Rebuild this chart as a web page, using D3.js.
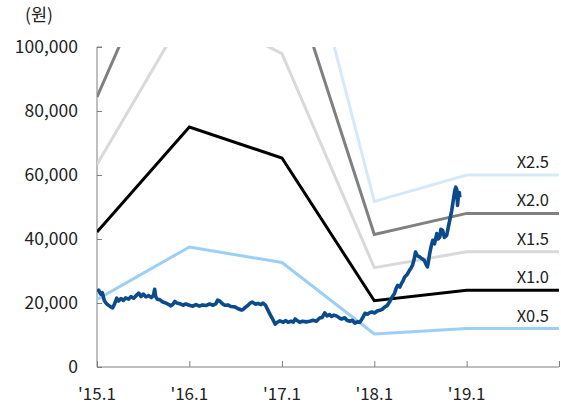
<!DOCTYPE html>
<html><head><meta charset="utf-8">
<script src="https://cdn.jsdelivr.net/npm/d3@7"></script>
<style>body{margin:0;background:#fff}svg{display:block}text{font-family:"Noto Sans CJK KR","Noto Sans",sans-serif;fill:#222}</style>
</head><body>
<svg id="c" width="561" height="406"></svg>
<script>
// ---- data ----
const bandDates = ["2015-01-01","2016-01-01","2017-01-01","2018-01-01","2019-01-01","2020-01-01"];
const bps = [42200, 75000, 65300, 20700, 24000, 24000];
const multiples = [2.5, 2.0, 1.5, 1.0, 0.5];
const bandLabels = ["X2.5","X2.0","X1.5","X1.0","X0.5"];
const bandColors = ["#d7e9f9","#808080","#d9d9d9","#000000","#9ccff5"];
const xTickDates = ["2015-01-01","2016-01-01","2017-01-01","2018-01-01","2019-01-01","2020-01-01"];
const xTickLabels = ["'15.1","'16.1","'17.1","'18.1","'19.1",""];
const yTicks = [0,20000,40000,60000,80000,100000];
const priceDates = ["2015-01-02","2015-01-08","2015-01-15","2015-01-22","2015-01-29","2015-02-05","2015-02-12","2015-02-24","2015-03-04","2015-03-12","2015-03-20","2015-03-27","2015-04-06","2015-04-15","2015-04-24","2015-05-06","2015-05-15","2015-05-26","2015-06-05","2015-06-15","2015-06-24","2015-07-03","2015-07-13","2015-07-24","2015-08-04","2015-08-12","2015-08-17","2015-08-21","2015-08-27","2015-09-07","2015-09-18","2015-09-30","2015-10-12","2015-10-20","2015-10-28","2015-11-05","2015-11-12","2015-11-24","2015-12-07","2015-12-18","2016-01-04","2016-01-15","2016-01-27","2016-02-10","2016-02-22","2016-03-07","2016-03-21","2016-04-04","2016-04-15","2016-04-22","2016-05-02","2016-05-12","2016-05-20","2016-06-01","2016-06-14","2016-06-29","2016-07-12","2016-07-25","2016-07-30","2016-08-10","2016-08-19","2016-08-29","2016-09-05","2016-09-19","2016-09-28","2016-10-10","2016-10-18","2016-10-28","2016-11-07","2016-11-16","2016-11-23","2016-11-30","2016-12-05","2016-12-12","2016-12-24","2017-01-06","2017-01-16","2017-01-25","2017-02-06","2017-02-15","2017-02-22","2017-03-02","2017-03-12","2017-03-24","2017-04-06","2017-04-21","2017-05-04","2017-05-17","2017-05-30","2017-06-09","2017-06-19","2017-06-28","2017-07-08","2017-07-16","2017-07-26","2017-08-06","2017-08-17","2017-08-25","2017-09-06","2017-09-15","2017-09-26","2017-10-06","2017-10-16","2017-10-26","2017-11-05","2017-11-15","2017-11-25","2017-12-05","2017-12-14","2017-12-22","2018-01-03","2018-01-12","2018-01-23","2018-02-01","2018-02-12","2018-02-21","2018-03-02","2018-03-12","2018-03-22","2018-03-28","2018-04-03","2018-04-12","2018-04-19","2018-04-25","2018-05-01","2018-05-10","2018-05-20","2018-05-27","2018-06-01","2018-06-07","2018-06-13","2018-06-20","2018-06-29","2018-07-09","2018-07-18","2018-07-25","2018-07-30","2018-08-03","2018-08-08","2018-08-14","2018-08-20","2018-08-27","2018-09-05","2018-09-10","2018-09-17","2018-09-21","2018-09-28","2018-10-05","2018-10-14","2018-10-20","2018-10-26","2018-11-03","2018-11-09","2018-11-15","2018-11-19","2018-11-23","2018-11-26","2018-11-29","2018-12-03","2018-12-05"];
const priceValues = [23500,24000,22800,23200,21000,20000,19500,18800,18500,19800,21500,20600,21400,20800,21600,21200,22000,21500,22300,23100,22000,22800,21900,22300,21700,22400,24300,22000,21200,21000,20300,20000,19500,19100,19600,20500,20000,19800,19300,19700,19200,19000,19500,19000,19400,19200,19700,19300,19800,20900,20500,19700,19300,19400,18900,18800,18200,17800,17900,18700,19200,20000,20300,19600,19900,19500,20000,19300,17700,16300,15300,14200,13400,13900,14400,14000,14500,14000,14300,14000,15000,14500,14000,14300,14100,14300,14600,14300,15300,15500,16900,16000,16400,15800,16200,15900,15300,15000,15400,14600,14300,14600,13700,14100,14000,15200,16800,16500,17000,17200,16900,17500,17700,18000,18800,19200,20300,21800,23000,24500,25500,25000,26200,27000,28100,28800,30200,31000,31800,33500,35900,34800,34400,33800,33300,32000,31300,33000,35500,37800,39600,38500,41700,40000,40600,43000,42700,40500,41100,43500,45800,48900,52000,55100,56200,55500,50500,53000,54500,53000];

// ---- chart ----
const parse = d3.timeParse("%Y-%m-%d");
const svg = d3.select("#c");
const L = 97, R = 559, T = 47, B = 367;
const x = d3.scaleTime().domain([parse("2015-01-01"), parse("2020-01-01")]).range([L, R]);
const y = d3.scaleLinear().domain([0, 100000]).range([B, T]);

svg.append("defs").append("clipPath").attr("id","clip")
  .append("rect").attr("x", L).attr("y", T).attr("width", R - L + 2).attr("height", B - T);

// axes
const axisColor = "#7f7f7f";
const yAxis = svg.append("g").attr("transform", `translate(${L},0)`)
  .call(d3.axisRight(y).tickValues(yTicks).tickSize(5).tickFormat(""));
yAxis.select(".domain").attr("d", `M5,${T}H0V${B}`);
yAxis.selectAll("line,path").attr("stroke", axisColor);
svg.append("g").selectAll("text").data(yTicks).join("text")
  .attr("x", 78).attr("y", d => y(d)).attr("dy", "0.36em")
  .attr("text-anchor", "end").attr("font-size", 17.5)
  .text(d => d3.format(",")(d));

const xAxis = svg.append("g").attr("transform", `translate(0,${B})`)
  .call(d3.axisTop(x).tickValues(xTickDates.map(parse)).tickSize(6).tickFormat(""));
xAxis.select(".domain").attr("d", `M${L},0H${R}`);
xAxis.selectAll("line,path").attr("stroke", axisColor);
svg.append("g").selectAll("text").data(xTickDates).join("text")
  .attr("x", d => x(parse(d))).attr("y", 400)
  .attr("text-anchor", "middle").attr("font-size", 17)
  .text((d, i) => xTickLabels[i]);

svg.append("text").attr("x", 25).attr("y", 21).attr("font-size", 17.5).text("(원)");

// bands
const band = d3.line().x(d => x(d.date)).y(d => y(d.v));
const g = svg.append("g").attr("clip-path", "url(#clip)");
multiples.forEach((m, i) => {
  const pts = bandDates.map((d, j) => ({date: parse(d), v: bps[j] * m}));
  g.append("path").datum(pts).attr("d", band)
    .attr("fill", "none").attr("stroke", bandColors[i]).attr("stroke-width", 3)
    .attr("stroke-linejoin", "miter");
  svg.append("text").attr("x", 549).attr("y", y(bps[bps.length - 1] * m) - 7)
    .attr("text-anchor", "end").attr("font-size", 16.5).text(bandLabels[i]);
});

// price
const price = priceDates.map((d, i) => ({date: parse(d), v: priceValues[i]}));
g.append("path").datum(price).attr("d", band)
  .attr("fill", "none").attr("stroke", "#0b4a8b").attr("stroke-width", 3.6)
  .attr("stroke-linejoin", "round");
</script>
</body></html>
